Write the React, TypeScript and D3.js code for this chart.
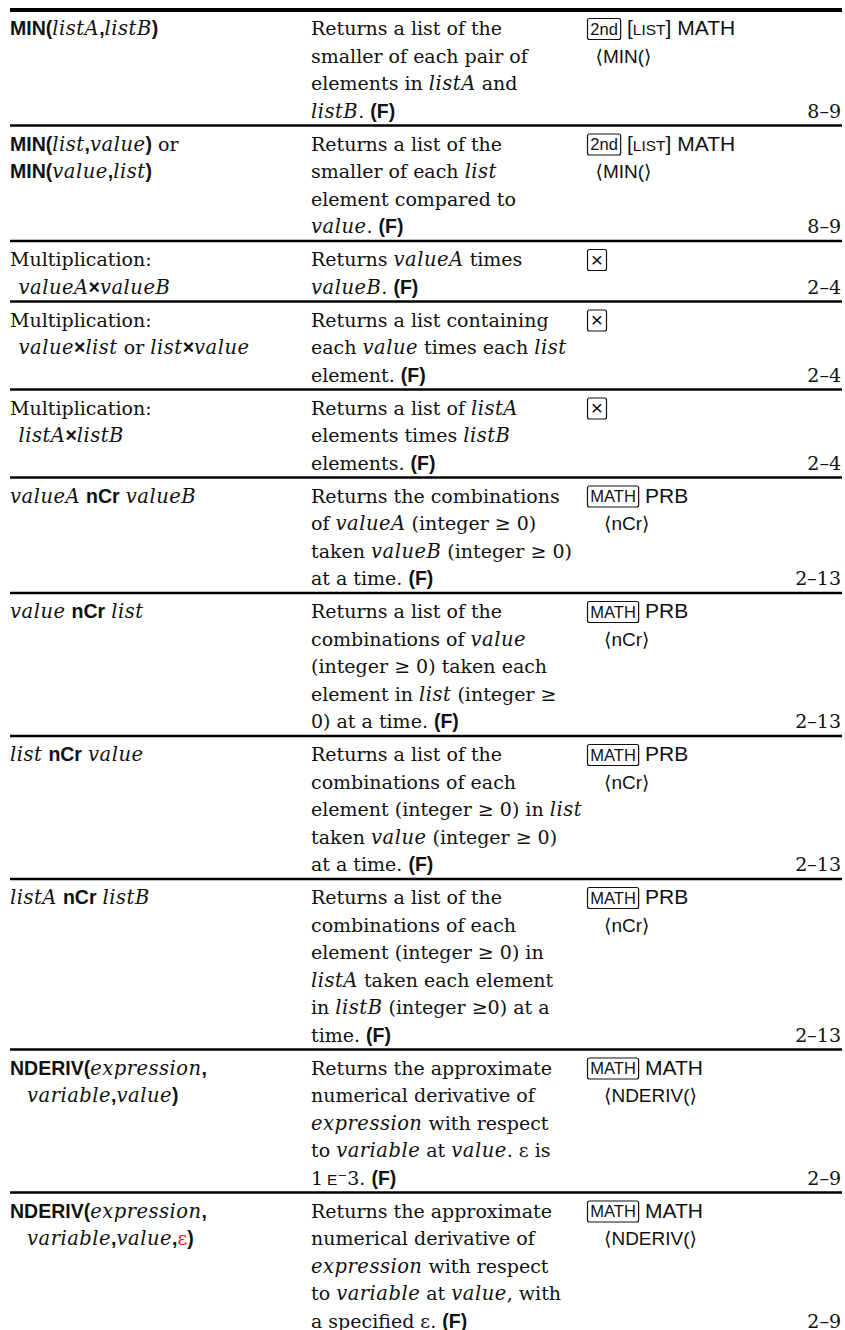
import React, { useEffect, useRef } from "react";
import * as d3 from "d3";

// ---- table content (markup: *bold sans*, _italic_, |boxed key|, {small sans}, #menu item#, ^red^; leading ">" = indent step)
const entries: string[][] = [
  ["*MIN(*_listA_*,*_listB_*)*"],
  ["*MIN(*_list_*,*_value_*)* or", "*MIN(*_value_*,*_list_*)*"],
  ["Multiplication:", ">_valueA_*×*_valueB_"],
  ["Multiplication:", ">_value_*×*_list_ or _list_*×*_value_"],
  ["Multiplication:", ">_listA_*×*_listB_"],
  ["_valueA_ *nCr* _valueB_"],
  ["_value_ *nCr* _list_"],
  ["_list_ *nCr* _value_"],
  ["_listA_ *nCr* _listB_"],
  ["*NDERIV(*_expression_*,*", ">>_variable_*,*_value_*)*"],
  ["*NDERIV(*_expression_*,*", ">>_variable_*,*_value_*,*^ε^*)*"],
];

const descriptions: string[][] = [
  ["Returns a list of the", "smaller of each pair of", "elements in _listA_ and", "_listB_. *(F)*"],
  ["Returns a list of the", "smaller of each _list_", "element compared to", "_value_. *(F)*"],
  ["Returns _valueA_ times", "_valueB_. *(F)*"],
  ["Returns a list containing", "each _value_ times each _list_", "element. *(F)*"],
  ["Returns a list of _listA_", "elements times _listB_", "elements. *(F)*"],
  ["Returns the combinations", "of _valueA_ (integer ≥ 0)", "taken _valueB_ (integer ≥ 0)", "at a time. *(F)*"],
  ["Returns a list of the", "combinations of _value_", "(integer ≥ 0) taken each", "element in _list_ (integer ≥", "0) at a time. *(F)*"],
  ["Returns a list of the", "combinations of each", "element (integer ≥ 0) in _list_", "taken _value_ (integer ≥ 0)", "at a time. *(F)*"],
  ["Returns a list of the", "combinations of each", "element (integer ≥ 0) in", "_listA_ taken each element", "in _listB_ (integer ≥0) at a", "time. *(F)*"],
  ["Returns the approximate", "numerical derivative of", "_expression_ with respect", "to _variable_ at _value_. ε is", "1\u2009{E}⁻3. *(F)*"],
  ["Returns the approximate", "numerical derivative of", "_expression_ with respect", "to _variable_ at _value_, with", "a specified ε. *(F)*"],
];

const keystrokes: string[][] = [
  ["|2nd| [{LIST}] MATH", ">#⟨MIN(⟩#"],
  ["|2nd| [{LIST}] MATH", ">#⟨MIN(⟩#"],
  ["|×|"],
  ["|×|"],
  ["|×|"],
  ["|MATH| PRB", ">>#⟨nCr⟩#"],
  ["|MATH| PRB", ">>#⟨nCr⟩#"],
  ["|MATH| PRB", ">>#⟨nCr⟩#"],
  ["|MATH| PRB", ">>#⟨nCr⟩#"],
  ["|MATH| MATH", ">>#⟨NDERIV(⟩#"],
  ["|MATH| MATH", ">>#⟨NDERIV(⟩#"],
];

const pages: string[] = ["8–9", "8–9", "2–4", "2–4", "2–4", "2–13", "2–13", "2–13", "2–13", "2–9", "2–9"];

// ---- layout
const W = 845;
const H = 1330;
const SERIF = "'DejaVu Serif', serif";
const SANS = "'Liberation Sans', Arial, 'DejaVu Sans', sans-serif";
const INK = "#111";
const LINE = 27.5;
const ROW_PAD = 5.5;
const FIRST_BASE = 25;
const TOP = 10;
const COLS = [10, 311, 587];
const PAGE_RIGHT = 841;
const INDENT = 8.5;

type Sty = {
  family: string;
  size: number;
  weight?: string;
  italic?: boolean;
  fill?: string;
  box?: boolean;
  spacing?: number;
};
const STY: Record<string, Sty> = {
  r: { family: SERIF, size: 19 },
  i: { family: SERIF, size: 19.5, italic: true, spacing: 0.5 },
  b: { family: SANS, size: 19.5, weight: "bold" },
  s: { family: SANS, size: 21 },
  m: { family: SANS, size: 15.5 },
  a: { family: SANS, size: 19 },
  k: { family: SANS, size: 16.5, box: true },
  e: { family: SERIF, size: 19, fill: "#e8141c" },
};
const MARKS: Record<string, string> = { "*": "b", _: "i", "|": "k", "{": "m", "}": "m", "#": "a", "^": "e" };

function parse(line: string, def: string) {
  let indent = 0;
  while (line.startsWith(">")) {
    indent += INDENT;
    line = line.slice(1);
  }
  const segs: { style: string; text: string }[] = [];
  let cur = def;
  let buf = "";
  for (const ch of Array.from(line)) {
    if (ch in MARKS) {
      if (buf) segs.push({ style: cur, text: buf });
      buf = "";
      const st = MARKS[ch];
      cur = cur === st ? def : st;
    } else buf += ch;
  }
  if (buf) segs.push({ style: cur, text: buf });
  return { indent, segs };
}

export default function App() {
  const ref = useRef<SVGSVGElement>(null);

  useEffect(() => {
    const svg = d3.select(ref.current);
    svg.selectAll("*").remove();
    const g = svg.append("g");

    const styleText = (t: d3.Selection<SVGTextElement, unknown, null, undefined>, s: Sty) =>
      t
        .attr("font-family", s.family)
        .attr("font-size", s.size)
        .attr("font-weight", s.weight || "normal")
        .attr("font-style", s.italic ? "italic" : "normal")
        .attr("letter-spacing", s.spacing || 0)
        .attr("fill", s.fill || INK)
        .style("white-space", "pre");

    const drawLine = (line: string, def: string, x0: number, y: number) => {
      const { indent, segs } = parse(line, def);
      let x = x0 + indent;
      for (const seg of segs) {
        const s = STY[seg.style];
        if (s.box) {
          const padX = 2.8;
          const single = Array.from(seg.text).length === 1;
          const t = styleText(g.append("text"), s)
            .attr("font-size", single ? 21 : s.size)
            .attr("y", single ? y + 0.5 : y - 0.5)
            .text(seg.text);
          const tw = (t.node() as SVGTextElement).getComputedTextLength();
          const bw = Math.max(tw + padX * 2, 19);
          t.attr("x", x + 0.5 + bw / 2).attr("text-anchor", "middle");
          g.append("rect")
            .attr("x", x + 0.5)
            .attr("y", y - 16.5)
            .attr("width", bw)
            .attr("height", 21)
            .attr("rx", 2)
            .attr("fill", "none")
            .attr("stroke", INK)
            .attr("stroke-width", 1.2);
          x += bw + 1;
        } else {
          const t = styleText(g.append("text"), s).attr("x", x).attr("y", y).text(seg.text);
          x += (t.node() as SVGTextElement).getComputedTextLength();
        }
      }
    };

    // top rule
    g.append("line")
      .attr("x1", 10)
      .attr("x2", 842)
      .attr("y1", TOP)
      .attr("y2", TOP)
      .attr("stroke", "#000")
      .attr("stroke-width", 4);

    let top = TOP;
    entries.forEach((entry, r) => {
      const cols = [entry, descriptions[r], keystrokes[r]];
      const n = d3.max(cols, (c) => c.length) as number;
      const baseline = d3.scaleLinear().domain([0, 1]).range([top + FIRST_BASE, top + FIRST_BASE + LINE]);
      cols.forEach((lines, c) => {
        lines.forEach((ln, j) => drawLine(ln, c === 2 ? "s" : "r", COLS[c], baseline(j)));
      });
      styleText(g.append("text"), STY.r)
        .attr("x", PAGE_RIGHT)
        .attr("y", baseline(n - 1))
        .attr("text-anchor", "end")
        .text(pages[r]);
      top = top + n * LINE + ROW_PAD;
      g.append("line")
        .attr("x1", 10)
        .attr("x2", 842)
        .attr("y1", top)
        .attr("y2", top)
        .attr("stroke", "#000")
        .attr("stroke-width", 2.5);
    });
  }, []);

  return (
    <svg
      ref={ref}
      width={W}
      height={H}
      viewBox={`0 0 ${W} ${H}`}
      style={{ position: "absolute", left: 0, top: 0, background: "#fff" }}
    />
  );
}
